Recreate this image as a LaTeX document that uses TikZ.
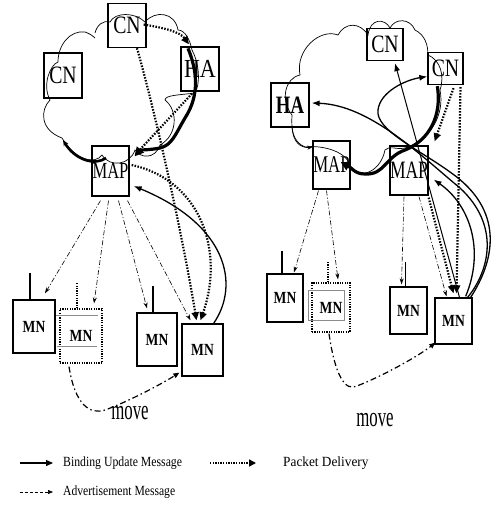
\documentclass[tikz,border=0pt]{standalone}
\usepackage{fontspec}
\setmainfont{Liberation Serif}
\usetikzlibrary{arrows.meta,calc}
\newcommand\boxtxt[3]{\fontsize{#1}{#1}\selectfont\scalebox{#2}[1]{#3}}
\begin{document}
\begin{tikzpicture}[x=1pt,y=-1pt,
  box/.style={draw, line width=1.3pt, inner sep=0pt, align=center},
  dotbox/.style={draw, line width=1.3pt, dash pattern=on 1.2pt off 1.2pt, inner sep=0pt},
  cloudline/.style={line width=0.7pt},
  adv/.style={line width=0.6pt, dash pattern=on 5pt off 2pt on 1pt off 2pt, -{Stealth[length=6pt,width=4pt]}},
  pkt/.style={line width=2.2pt, dash pattern=on 1.5pt off 1.5pt, -{Triangle[length=8pt,width=7pt]}},
  bind/.style={line width=1.3pt, -{Latex[length=8pt,width=6pt]}},
  tunnel/.style={line width=3.2pt, -{Triangle[length=9pt,width=9pt]}},
  mv/.style={line width=1.2pt, dash pattern=on 6pt off 3pt on 1.5pt off 3pt, -{Triangle[length=6pt,width=5pt]}},
  ant/.style={line width=1.3pt},
  ghost/.style={line width=0.5pt, draw=black!45}
]
\useasboundingbox (0,0) rectangle (497,507);

% ================= LEFT PANEL =================
% cloud
\draw[cloudline] (62,138)
 .. controls (40,130) and (40,110) .. (50,100)
 .. controls (42,85) and (50,65) .. (58,62)
 .. controls (58,45) and (70,30) .. (85,32)
 .. controls (88,33) and (92,35) .. (95,38)
 (95,33) .. controls (97,25) and (103,20) .. (110,22)
 .. controls (115,12) and (135,12) .. (145,22)
 .. controls (155,10) and (175,12) .. (178,30)
 .. controls (185,30) and (190,40) .. (192,50)
 .. controls (200,65) and (200,85) .. (195,93)
 .. controls (180,95) and (165,95) .. (165,100)
 .. controls (178,110) and (178,135) .. (160,145)
 .. controls (155,160) and (140,158) .. (135,150)
 .. controls (130,165) and (110,168) .. (102,155)
 .. controls (95,165) and (75,160) .. (62,138);

\node[box, minimum width=38pt, minimum height=44pt] (CNa) at (127,25.5) {\boxtxt{25}{0.79}{CN}};
\node[box, minimum width=38pt, minimum height=45pt] (CNb) at (63,75.5) {\boxtxt{25}{0.79}{CN}};
\node[box, minimum width=38pt, minimum height=44pt] (HAa) at (200,69) {\boxtxt{26}{0.85}{HA}};
\node[box, minimum width=37pt, minimum height=50pt] (MAPa) at (110.5,171) {\boxtxt{23}{0.72}{MAP}};

\node[box, minimum width=42pt, minimum height=53pt] (MNa1) at (34,326.5) {\boxtxt{17}{0.8}{\bfseries MN}};
\node[dotbox, minimum width=42pt, minimum height=54pt] (MNa2) at (81,336) {\boxtxt{17}{0.8}{\bfseries MN}};
\node[box, minimum width=40pt, minimum height=53pt] (MNa3) at (157,339.5) {\boxtxt{17}{0.8}{\bfseries MN}};
\node[box, minimum width=41pt, minimum height=52pt] (MNa4) at (202.5,350) {\boxtxt{17}{0.8}{\bfseries MN}};

\draw[ghost] (56,315) -- (98,315) (57,346) -- (97,346);
\draw[ant] ($(MNa1.north)+(-4,0)$) -- ++(0,-26);
\draw[line width=1.3pt, dash pattern=on 1.2pt off 1.2pt] ($(MNa2.north)+(-4,0)$) -- ++(0,-26);
\draw[ant] ($(MNa3.north)+(-4,0)$) -- ++(0,-26);

% advertisement
\draw[adv] ($(MAPa.south)+(-10,4)$) -- ($(MNa1.north)+(11,-6)$);
\draw[adv] ($(MAPa.south)+(-2,4)$) -- ($(MNa2.north)+(13,-5)$);
\draw[adv] ($(MAPa.south)+(8,4)$) -- ($(MNa3.north)+(-10,-4)$);
\draw[adv] ($(MAPa.south)+(17,4)$) -- ($(MNa4.north)+(-12,-3)$);

% packet delivery
\draw[pkt] ($(CNa.east)+(-3,-1)$) .. controls (165,28) and (180,32) .. ($(HAa.north)+(-11,-2)$);
\draw[pkt] ($(CNa.south)+(10,0)$) .. controls (160,130) and (185,250) .. ($(MNa4.north)+(-6,-3)$);
\draw[pkt] ($(HAa.south)+(-8,2)$) -- ($(MAPa.north east)+(5,10)$);
\draw[pkt] ($(MAPa.east)+(2,-6)$) .. controls (200,180) and (225,250) .. ($(MNa4.north)+(-2,-3)$);

% binding update
\draw[bind] ($(MNa4.north east)+(-10,0)$) .. controls (240,285) and (228,225) .. ($(MAPa.east)+(4,15)$);

% tunnel (thick)
\draw[tunnel] ($(HAa.north)+(-12,2)$) .. controls (197,70) and (200,95) .. (185,118)
  .. controls (175,135) and (172,145) .. (160,148)
  .. controls (150,150) and (140,150) .. ($(MAPa.north east)+(5,11)$);
\draw[line width=2.6pt, -{Stealth[length=6pt,width=5pt]}] (106,158) .. controls (95,166) and (75,160) .. (63,140);

% move
\draw[mv] ($(MNa2.south)+(-12,3)$) .. controls (75,405) and (90,415) .. (105,410)
  .. controls (125,403) and (160,385) .. ($(MNa4.south west)+(-2,-4)$);
\node (movea) at (130,413) {\boxtxt{28}{0.6}{move}};

% ================= RIGHT PANEL =================
\draw[cloudline] (305,147)
 .. controls (293,142) and (291,130) .. (292,115)
 .. controls (280,100) and (285,78) .. (300,75)
 .. controls (295,50) and (320,28) .. (338,35)
 .. controls (345,22) and (360,22) .. (368,35)
 .. controls (370,18) and (385,18) .. (390,28)
 .. controls (395,18) and (410,18) .. (415,30)
 .. controls (425,35) and (428,45) .. (428,55)
 .. controls (440,60) and (445,75) .. (440,90)
 .. controls (445,115) and (430,140) .. (405,148)
 .. controls (395,150) and (390,145) .. (385,150)
 .. controls (380,175) and (355,180) .. (350,165)
 .. controls (345,150) and (320,145) .. (305,147);

\node[box, minimum width=36pt, minimum height=32pt] (CNc) at (385,44.5) {\boxtxt{25}{0.79}{CN}};
\node[box, minimum width=35pt, minimum height=32pt] (CNd) at (445.5,68.5) {\boxtxt{25}{0.79}{CN}};
\node[box, minimum width=38pt, minimum height=44pt] (HAb) at (290,105) {\boxtxt{25}{0.75}{\bfseries HA}};
\node[box, minimum width=37pt, minimum height=48pt] (MAPb) at (331.5,165) {\boxtxt{24}{0.7}{MAP}};
\node[box, minimum width=38pt, minimum height=49pt] (MAPc) at (409,170.5) {\boxtxt{25}{0.7}{MAP}};

\node[box, minimum width=36pt, minimum height=48pt] (MNb1) at (285,298) {\boxtxt{17}{0.8}{\bfseries MN}};
\node[dotbox, minimum width=38pt, minimum height=49pt] (MNb2) at (331,307.5) {\boxtxt{17}{0.8}{\bfseries MN}};
\node[box, minimum width=37pt, minimum height=47pt] (MNb3) at (408.5,310.5) {\boxtxt{17}{0.8}{\bfseries MN}};
\node[box, minimum width=37pt, minimum height=46pt] (MNb4) at (453.5,321) {\boxtxt{17}{0.8}{\bfseries MN}};

\draw[ghost] (308,290) rectangle (344,320);
\draw[ant] ($(MNb1.north)+(-3,0)$) -- ++(0,-22);
\draw[line width=1.3pt, dash pattern=on 1.2pt off 1.2pt] ($(MNb2.north)+(-3,0)$) -- ++(0,-21);
\draw[ant] ($(MNb3.north)+(-3,0)$) -- ++(0,-24);

% thin cloud arrow
\draw[line width=0.7pt, -{Stealth[length=5pt,width=4pt]}] (292,127) .. controls (293,142) and (300,148) .. ($(MAPb.north west)+(0,7)$);

% advertisement
\draw[adv] ($(MAPb.south)+(-13,1)$) -- ($(MNb1.north)+(9,-1)$);
\draw[adv] ($(MAPb.south)+(-5,1)$) -- ($(MNb2.north)+(7,-3)$);
\draw[adv] ($(MAPc.south)+(-5,1)$) -- ($(MNb3.north)+(-7,-2)$);
\draw[adv] ($(MAPc.south)+(10,1)$) -- ($(MNb4.north)+(-7,-1)$);

% packet delivery
\draw[pkt] ($(CNd.south)+(8,3)$) -- ($(MAPc.north east)+(6,-4)$);
\draw[pkt] ($(MAPc.south east)+(0,2)$) -- ($(MNb4.north)+(0,-4)$);
\draw[pkt] ($(CNd.south)+(15,2)$) -- ($(MNb4.north)+(3,-4)$);

% binding update
\draw[bind] ($(MNb4.north east)+(-7,-1)$) .. controls (485,250) and (470,205) .. ($(MAPc.east)+(5,9)$);
\draw[line width=1pt, -{Latex[length=8pt,width=6pt]}] ($(MNb4.north)+(6,0)$) -- ($(CNc.south)+(10,2)$);
\draw[bind] ($(MNb4.north east)+(-5,0)$) .. controls (490,270) and (500,225) .. (460,188)
  .. controls (420,155) and (370,105) .. ($(HAb.east)+(2,-2)$);
\draw[bind] ($(MNb4.north east)+(-2,0)$) .. controls (495,260) and (505,210) .. (450,172)
  .. controls (420,150) and (375,130) .. (378,110)
  .. controls (380,92) and (405,80) .. ($(CNd.west)+(0,8)$);

% tunnel (thick)
\draw[tunnel] ($(CNd.south west)+(10,1)$) .. controls (442,115) and (430,140) .. (405,150)
  .. controls (385,157) and (385,175) .. (365,174)
  .. controls (355,174) and (352,168) .. ($(MAPb.east)+(-10,-3)$);

% move
\draw[mv] ($(MNb2.south)+(-2,1)$) .. controls (335,375) and (345,392) .. (357,386)
  .. controls (385,375) and (420,355) .. ($(MNb4.south west)+(1,-2)$);
\node (moveb) at (375,420) {\boxtxt{28}{0.6}{move}};

% ================= LEGEND =================
\coordinate (l1a) at (20,463); \coordinate (l1b) at (53,463);
\coordinate (l2a) at (210,463); \coordinate (l2b) at (256,463);
\coordinate (l3a) at (20,492); \coordinate (l3b) at (53,492);
\draw[line width=1.3pt, -{Triangle[length=7pt,width=6pt]}] (l1a) -- (l1b);
\node[anchor=west, inner sep=0pt] (t1) at (63,463) {\boxtxt{14}{0.84}{Binding Update Message}};
\draw[line width=1.5pt, dash pattern=on 1.3pt off 1.3pt, -{Triangle[length=7pt,width=7pt]}] (l2a) -- (l2b);
\node[anchor=west, inner sep=0pt] (t2) at (283,463) {\boxtxt{14}{0.95}{Packet Delivery}};
\draw[line width=0.7pt, dash pattern=on 3pt off 2pt, -{Triangle[length=5pt,width=4pt]}] (l3a) -- (l3b);
\node[anchor=west, inner sep=0pt] (t3) at (63,492) {\boxtxt{14}{0.83}{Advertisement Message}};
\end{tikzpicture}
\end{document}
